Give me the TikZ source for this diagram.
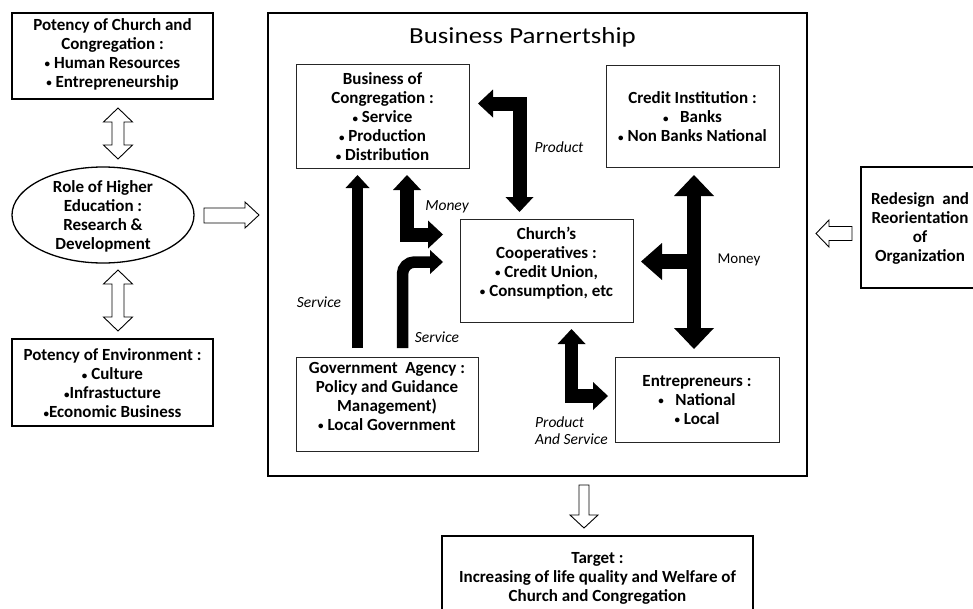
\documentclass[tikz,border=0pt]{standalone}
\usepackage{fontspec}
\setmainfont{Carlito}
\usetikzlibrary{arrows.meta,shapes.geometric}
\newcommand{\bul}{{\fontsize{11}{11}\selectfont\raisebox{0.15ex}{•}}}
\begin{document}
\begin{tikzpicture}[x=1pt,y=-1pt,
  ibox/.style={draw=black!85, line width=0.8pt, inner sep=0pt},
  obox/.style={draw=black, line width=1.7pt, inner sep=0pt},
  txt/.style={font=\bfseries\fontsize{17}{19}\selectfont, align=center, inner sep=0pt},
  lab/.style={font=\itshape\fontsize{15.5}{17}\selectfont, inner sep=0pt},
  hollow/.style={draw=black, fill=white, line width=0.9pt, line join=miter},
  blk/.style={draw=black, line width=#1, line join=miter},
  dtip/.style={arrows={Triangle[width=28pt,length=15pt,line width=0pt]-Triangle[width=28pt,length=15pt,line width=0pt]}},
  etip/.style={arrows={-Triangle[width=24pt,length=13pt,line width=0pt]}},
  dbig/.style={arrows={Triangle[width=40pt,length=21pt,line width=0pt]-Triangle[width=40pt,length=21pt,line width=0pt]}},
  ebig/.style={arrows={-Triangle[width=37pt,length=21pt,line width=0pt]}}]
\clip (0,0) rectangle (973,608);
\fill[white] (0,0) rectangle (973,608);

% outer boxes
\node[obox, minimum width=201pt, minimum height=86pt] (tl) at (112.5,56) {};
\node[txt] (tlt) at (112.5,54) {Potency of Church and\\Congregation :\\\bul\ Human Resources\\\bul\ Entrepreneurship};
\node[draw=black, line width=1.3pt, ellipse, minimum width=182pt, minimum height=96pt, inner sep=0pt] (ell) at (103,215) {};
\node[txt] (ellt) at (103,216) {Role of Higher\\Education :\\Research \&\\Development};
\node[obox, minimum width=201pt, minimum height=87pt] (bl) at (112.5,382.5) {};
\node[txt] (blt) at (112.5,383.5) {Potency of Environment :\\\bul\ Culture\\\bul Infrastucture\\\bul Economic Business};
\node[draw=black, line width=2.6pt, minimum width=539pt, minimum height=463pt, inner sep=0pt] (main) at (537.5,244.5) {};
\node[font=\fontsize{23}{26}\selectfont, inner sep=0pt, xscale=1.17] (title) at (522.5,37) {Business Parnertship};
\node[obox, minimum width=119pt, minimum height=121pt] (red) at (920.5,227.5) {};
\node[txt] (redt) at (920,228.5) {Redesign~ and\\Reorientation\\of\\Organization};
\node[obox, minimum width=311pt, minimum height=84pt] (tg) at (597.5,578) {};
\node[txt] (tgt) at (597.5,578) {Target :\\Increasing of life quality and Welfare of\\Church and Congregation};

% inner boxes
\node[ibox, minimum width=173pt, minimum height=104pt] (bus) at (382.5,116) {};
\node[txt] (bust) at (382.5,117) {Business of\\Congregation :\\\bul\ Service\\\bul\ Production\\\bul\ Distribution};
\node[ibox, minimum width=173pt, minimum height=102pt] (cred) at (692.5,116) {};
\node[txt] (credt) at (692.5,117) {Credit Institution :\\\bul~~ Banks\\\bul\ Non Banks National};
\node[ibox, minimum width=173pt, minimum height=103pt] (ch) at (546.5,270.5) {};
\node[txt] (cht) at (546.5,263) {Church’s\\Cooperatives :\\\bul\ Credit Union,\\\bul\ Consumption, etc};
\node[ibox, minimum width=182pt, minimum height=94pt] (gov) at (387,404) {};
\node[txt] (govt) at (387,396) {Government~ Agency :\\Policy and Guidance\\Management)\\\bul\ Local Government};
\node[ibox, minimum width=164pt, minimum height=85pt] (ent) at (697,399.5) {};
\node[txt] (entt) at (697,400) {Entrepreneurs :\\\bul~~ National\\\bul\ Local};

% labels
\node[lab] (lprod) at (559,147) {Product};
\node[lab] (lmon) at (447,207) {Money};
\node[lab] (lser1) at (319,302) {Service};
\node[lab] (lser2) at (437,337) {Service};
\node[lab, anchor=west, align=left] (lps) at (535,430.5) {Product\\And Service};
\node[font=\fontsize{15}{17}\selectfont, inner sep=0pt] (lmon2) at (739,260) {Money};

% free ends of the black connectors
\coordinate (p1) at (478,103.5);
\coordinate (p2) at (519.5,212);
\coordinate (m1) at (407,175);
\coordinate (m2) at (443,234.5);
\coordinate (s1a) at (357.5,348);
\coordinate (s1b) at (357.5,175);
\coordinate (s2a) at (402.5,348);
\coordinate (s2b) at (443,262);
\coordinate (e1) at (571.5,329);
\coordinate (e2) at (608,396);
\coordinate (t1) at (694,175);
\coordinate (t2) at (694,349);
\coordinate (t3) at (694,261.5);
\coordinate (t4) at (641,261.5);

\draw[blk=14pt, dtip] (p1) -| (p2);
\draw[blk=14pt, dtip] (m1) |- (m2);
\draw[blk=11.5pt, etip] (s1a) -- (s1b);
\draw[blk=11.5pt, etip, rounded corners=12pt] (s2a) |- (s2b);
\draw[blk=13.5pt, dtip] (e1) |- (e2);
\draw[blk=14pt, dbig] (t1) -- (t2);
\draw[blk=15pt, ebig] (t3) -- (t4);

% hollow arrows
\draw[hollow] (118,108) -- (132.5,122) -- (124,122) -- (124,145) -- (132.5,145) -- (118,159) -- (103.5,145) -- (112,145) -- (112,122) -- (103.5,122) -- cycle;
\draw[hollow] (118,270) -- (132.5,284) -- (124,284) -- (124,317) -- (132.5,317) -- (118,331) -- (103.5,317) -- (112,317) -- (112,284) -- (103.5,284) -- cycle;
\draw[hollow] (204,208) -- (245,208) -- (245,202) -- (259,215) -- (245,228) -- (245,223) -- (204,223) -- cycle;
\draw[hollow] (852,226.5) -- (829,226.5) -- (829,220) -- (816,233.5) -- (829,247) -- (829,240.5) -- (852,240.5) -- cycle;
\draw[hollow] (579,485) -- (589,485) -- (589,515) -- (598,515) -- (584,528) -- (570,515) -- (579,515) -- cycle;
\end{tikzpicture}
\end{document}
